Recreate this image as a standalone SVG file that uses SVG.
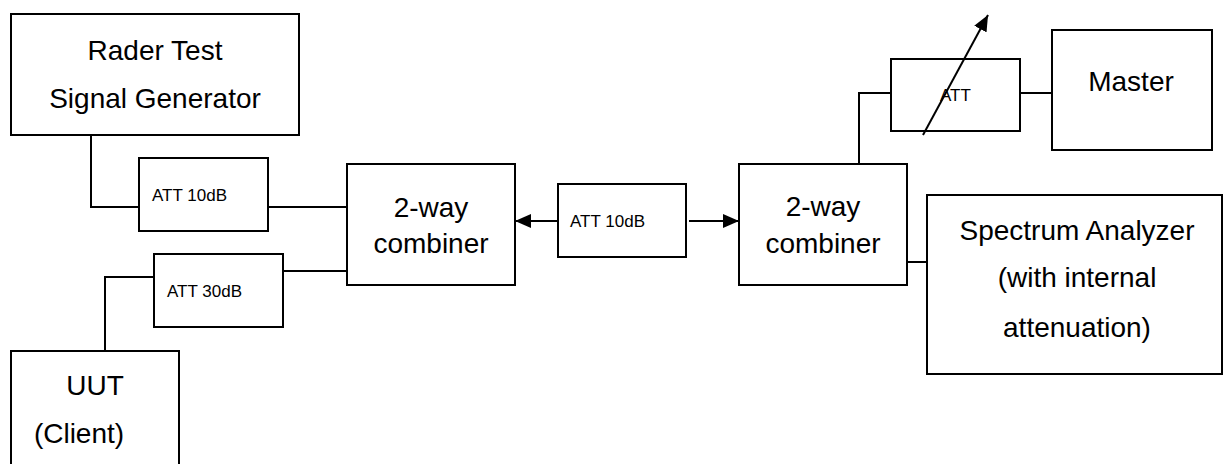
<svg xmlns="http://www.w3.org/2000/svg" width="1227" height="464" viewBox="0 0 1227 464">
<style>
.box{fill:#fff;stroke:#000;stroke-width:2}
.big{font-family:"Liberation Sans",Arial,sans-serif;font-size:28px;fill:#000;text-anchor:middle}
.sm{font-family:"Liberation Sans",Arial,sans-serif;font-size:17px;fill:#000}
.ln{fill:none;stroke:#000;stroke-width:2}
</style>
<defs>
<marker id="ah" markerUnits="userSpaceOnUse" markerWidth="16" markerHeight="14" refX="16" refY="7" orient="auto">
<path d="M0,0 L16,7 L0,14 z" fill="#000"/>
</marker>
</defs>
<rect width="1227" height="464" fill="#fff"/>
<g id="connectors">
<polyline class="ln" points="91,135 91,207 139,207"/>
<line class="ln" x1="268" y1="207" x2="347" y2="207"/>
<polyline class="ln" points="105,351 105,277 154,277"/>
<line class="ln" x1="283" y1="271" x2="347" y2="271"/>
<line class="ln" x1="558" y1="221" x2="515" y2="221" marker-end="url(#ah)"/>
<line class="ln" x1="689" y1="221" x2="739" y2="221" marker-end="url(#ah)"/>
<polyline class="ln" points="859,164 859,93 891,93"/>
<line class="ln" x1="1020" y1="93" x2="1052" y2="93"/>
<line class="ln" x1="907" y1="262" x2="927" y2="262"/>
</g>
<g id="rader">
<rect class="box" x="11" y="14" width="288" height="121"/>
<text class="big" x="155" y="60">Rader Test</text>
<text class="big" x="155" y="108">Signal Generator</text>
</g>
<g id="att10a">
<rect class="box" x="139" y="158" width="129" height="73"/>
<text class="sm" x="152" y="201">ATT 10dB</text>
</g>
<g id="att30">
<rect class="box" x="154" y="254" width="129" height="73"/>
<text class="sm" x="167" y="297">ATT 30dB</text>
</g>
<g id="uut">
<rect class="box" x="11" y="351" width="168" height="130"/>
<text class="big" x="95" y="395">UUT</text>
<text class="big" x="79" y="443">(Client)</text>
</g>
<g id="combiner1">
<rect class="box" x="347" y="164" width="168" height="121"/>
<text class="big" x="431" y="217">2-way</text>
<text class="big" x="431" y="253">combiner</text>
</g>
<g id="att10b">
<rect class="box" x="558" y="184" width="128" height="73"/>
<text class="sm" x="570" y="227">ATT 10dB</text>
</g>
<g id="combiner2">
<rect class="box" x="739" y="164" width="168" height="121"/>
<text class="big" x="823" y="216">2-way</text>
<text class="big" x="823" y="253">combiner</text>
</g>
<g id="attvar">
<rect class="box" x="891" y="59" width="129" height="72"/>
<text class="sm" x="940" y="101">ATT</text>
<line class="ln" x1="923" y1="135" x2="988" y2="15" marker-end="url(#ah)"/>
</g>
<g id="master">
<rect class="box" x="1052" y="30" width="160" height="120"/>
<text class="big" x="1131" y="91">Master</text>
</g>
<g id="spectrum">
<rect class="box" x="927" y="195" width="295" height="179"/>
<text class="big" x="1077" y="240">Spectrum Analyzer</text>
<text class="big" x="1077" y="287">(with internal</text>
<text class="big" x="1077" y="337">attenuation)</text>
</g>
</svg>
